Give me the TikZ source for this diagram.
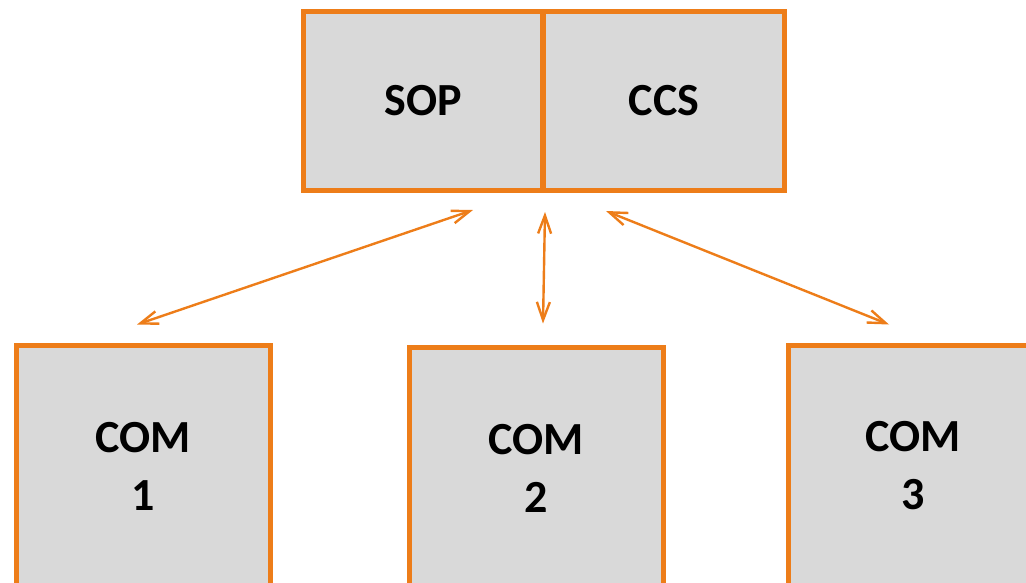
\documentclass[tikz,border=0pt]{standalone}
\usepackage{fontspec}
\setmainfont{Carlito}
\usetikzlibrary{arrows.meta}
\definecolor{boxorange}{RGB}{237,125,25}
\definecolor{boxgray}{RGB}{217,217,217}
\begin{document}
\begin{tikzpicture}[x=1pt,y=-1pt,
    unit/.style={draw=boxorange,fill=boxgray,line width=5pt,rectangle,
      align=center,inner sep=0pt,font=\fontsize{46}{58}\selectfont\bfseries},
    link/.style={draw=boxorange,line width=2.4pt,
      {Straight Barb[length=18pt,width=13pt]}-{Straight Barb[length=18pt,width=13pt]}}]
      \useasboundingbox (0,0) rectangle (1026,582);
      \clip (0,0) rectangle (1026,582);
      \draw
        (423,101) node[unit,minimum width=239pt,minimum height=179pt] (sop){SOP}
        (664,101) node[unit,minimum width=241pt,minimum height=179pt] (ccs){CCS}
        (143,466) node[unit,minimum width=254pt,minimum height=242pt] (com1){COM\\1}
        (536,468) node[unit,minimum width=254pt,minimum height=242pt] (com2){COM\\2}
        (913,466) node[unit,minimum width=250pt,minimum height=242pt] (com3){COM\\3};
      \begin{scope}[link]
        \draw ([xshift=50pt,yshift=-17pt]sop.south) -- ([xshift=-6pt,yshift=18pt]com1.north);
        \draw ([yshift=-19pt]sop.south east) -- ([xshift=7pt,yshift=21pt]com2.north);
        \draw ([xshift=-58pt,yshift=-18pt]ccs.south) -- ([xshift=-24pt,yshift=18pt]com3.north);
      \end{scope}
    \end{tikzpicture}
\end{document}
